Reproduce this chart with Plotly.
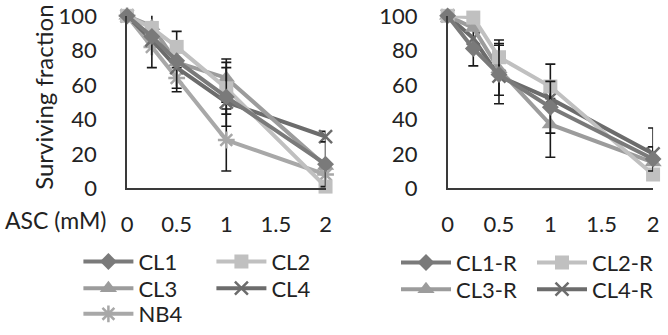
import plotly.graph_objects as go

# ---------------- data ----------------
asc = [0, 0.25, 0.5, 1, 2]

left_names = ["CL1", "CL2", "CL3", "CL4", "NB4"]
cl1 = [100, 88, 74, 53, 14]
cl2 = [100, 93, 82, 58, 1]
cl3 = [100, 94, 73, 64, 13]
cl4 = [100, 86, 70, 50, 30]
nb4 = [100, 82, 64, 28, 8]
cl1_err = [0, 0, 0, 17, 13]
cl2_err = [0, 0, 9, 15, 0]
cl3_err = [0, 0, 0, 11, 0]
cl4_err = [0, 16, 14, 0, 3]
nb4_err = [0, 0, 6, 18, 0]

right_names = ["CL1-R", "CL2-R", "CL3-R", "CL4-R"]
cl1r = [100, 81, 66, 47, 17]
cl2r = [100, 99, 76, 59, 8]
cl3r = [100, 93, 69, 37, 15]
cl4r = [100, 87, 65, 52, 20]
cl1r_err = [0, 0, 17, 15, 7]
cl2r_err = [0, 0, 10, 13, 0]
cl3r_err = [0, 0, 15, 19, 0]
cl4r_err = [0, 16, 0, 0, 15]

x_ticks = [0, 0.5, 1, 1.5, 2]
x_tick_labels = ["0", "0.5", "1", "1.5", "2"]
y_ticks = [0, 20, 40, 60, 80, 100]

# ---------------- style ----------------
FONT = "Lato"
FS = 22
TXT = "#222222"
W, H = 668, 335
c_cl1 = "#7a7a7a"
c_cl2 = "#c0c0c0"
c_cl3 = "#9c9c9c"
c_cl4 = "#6c6c6c"
c_nb4 = "#a8a8a8"

fig = go.Figure()


def add(name, y, err, color, symbol, size, xa, ya, legend, line_marker=False):
    marker = dict(symbol=symbol, size=size, color=color)
    if line_marker:
        marker["line"] = dict(color=color, width=2.5)
    fig.add_trace(go.Scatter(
        x=asc, y=y, name=name, mode="lines+markers",
        line=dict(color=color, width=4),
        marker=marker,
        error_y=dict(type="data", array=err, visible=True, color="#1a1a1a",
                     thickness=1.6, width=5),
        xaxis=xa, yaxis=ya, legend=legend, cliponaxis=False,
    ))


# left panel (trace order bottom to top)
add("NB4", nb4, nb4_err, c_nb4, "asterisk-open", 14, "x", "y", "legend3", True)
add("CL4", cl4, cl4_err, c_cl4, "x-thin-open", 13, "x", "y", "legend2", True)
add("CL3", cl3, cl3_err, c_cl3, "triangle-up", 15, "x", "y", "legend2")
add("CL2", cl2, cl2_err, c_cl2, "square", 14, "x", "y", "legend")
add("CL1", cl1, cl1_err, c_cl1, "diamond", 13, "x", "y", "legend")

# right panel
add("CL4-R", cl4r, cl4r_err, c_cl4, "x-thin-open", 13, "x2", "y2", "legend5", True)
add("CL3-R", cl3r, cl3r_err, c_cl3, "triangle-up", 15, "x2", "y2", "legend5")
add("CL2-R", cl2r, cl2r_err, c_cl2, "square", 14, "x2", "y2", "legend4")
add("CL1-R", cl1r, cl1r_err, c_cl1, "diamond", 13, "x2", "y2", "legend4")


def px_x(p):
    return p / W


def px_y(p):
    return 1 - p / H


y_dom = [px_y(190), px_y(16)]
axis_common = dict(showgrid=False, zeroline=False, showline=True,
                   linecolor="#3a3a3a", linewidth=1.5, ticks="",
                   automargin=False,
                   tickfont=dict(family=FONT, size=FS, color=TXT))

fig.update_layout(
    template="none",
    width=W, height=H,
    margin=dict(l=0, r=0, t=0, b=0, pad=0),
    paper_bgcolor="white", plot_bgcolor="white",
    font=dict(family=FONT, size=FS, color=TXT),
    xaxis=dict(domain=[px_x(128), px_x(328)], range=[0, 2], anchor="y",
               tickvals=x_ticks, ticktext=x_tick_labels,
               ticklabelstandoff=16, **axis_common),
    yaxis=dict(domain=y_dom, range=[0, 100], anchor="x", tickvals=y_ticks,
               ticklabelstandoff=24, **axis_common),
    xaxis2=dict(domain=[px_x(451), px_x(658)], range=[0, 2], anchor="y2",
                tickvals=x_ticks, ticktext=x_tick_labels,
                ticklabelstandoff=16, **axis_common),
    yaxis2=dict(domain=y_dom, range=[0, 100], anchor="x2", tickvals=y_ticks,
                ticklabelstandoff=24, **axis_common),
    showlegend=True,
)

leg_common = dict(orientation="h", xanchor="left", yanchor="middle",
                  font=dict(family=FONT, size=FS, color=TXT),
                  bgcolor="rgba(0,0,0,0)", itemwidth=50,
                  entrywidthmode="pixels",
                  tracegroupgap=0, traceorder="reversed")
fig.update_layout(
    legend=dict(x=px_x(79), y=px_y(264), entrywidth=68, **leg_common),
    legend2=dict(x=px_x(79), y=px_y(291), entrywidth=68, **leg_common),
    legend3=dict(x=px_x(79), y=px_y(317), entrywidth=68, **leg_common),
    legend4=dict(x=px_x(399), y=px_y(265), entrywidth=71, **leg_common),
    legend5=dict(x=px_x(399), y=px_y(292), entrywidth=71, **leg_common),
)

fig.add_annotation(text="ASC (mM)", xref="paper", yref="paper",
                   x=px_x(3), y=px_y(222), xanchor="left", yanchor="middle",
                   showarrow=False, font=dict(family=FONT, size=23, color=TXT))
fig.add_annotation(text="Surviving fraction", xref="paper", yref="paper",
                   x=px_x(43), y=px_y(98), xanchor="center", yanchor="middle",
                   textangle=-90, showarrow=False,
                   font=dict(family=FONT, size=24, color=TXT))

fig.write_html("out.html", config={"displayModeBar": False},
               post_script="document.body.style.margin='0px';")
